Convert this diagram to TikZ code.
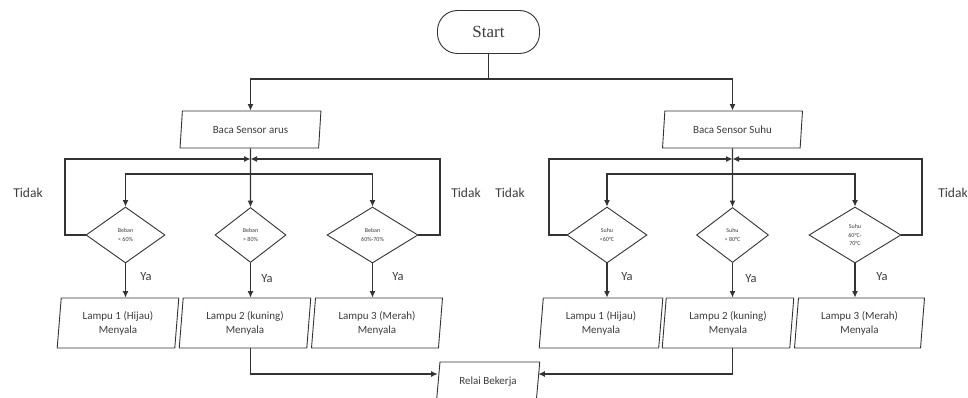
\documentclass[tikz,border=0pt]{standalone}
\usepackage{fontspec}
\setmainfont{Carlito}
\newfontfamily\startfont{Liberation Serif}
\usetikzlibrary{shapes.geometric,arrows.meta}
\definecolor{lc}{HTML}{333333}
\definecolor{tc}{HTML}{3C3C3C}
\tikzset{
  line/.style={draw=lc, line width=1.1pt},
  arr/.style={line, -{Latex[length=6.5pt,width=6pt]}},
  para/.style={trapezium, trapezium left angle=80, trapezium right angle=100,
    trapezium stretches=true, draw=lc, line width=0.9pt, inner sep=0pt,
    align=center, text=tc, font=\fontsize{11}{14}\selectfont},
  lamp/.style={para, trapezium left angle=84, trapezium right angle=96, minimum height=50pt},
  dia/.style={diamond, draw=lc, line width=0.9pt, inner sep=0pt, align=center,
    text=tc, font=\fontsize{6}{8.5}\selectfont},
  startbox/.style={draw=lc, line width=0.9pt, rounded corners=20pt,
    minimum width=102pt, minimum height=43pt, text=tc,
    font=\startfont\fontsize{17}{20}\selectfont},
  lbl/.style={text=tc, font=\fontsize{13.5}{16}\selectfont},
  ya/.style={text=tc, font=\fontsize{12.5}{15}\selectfont}
}
\begin{document}
\begin{tikzpicture}[x=1pt,y=-1pt]
\useasboundingbox (0,0) rectangle (968,398);
% start
\node[startbox] (start) at (488.5,32) {Start};
\coordinate (j0) at (489,79);
\node[para, minimum width=141pt, minimum height=37pt] (ba) at (250.5,129.5) {Baca Sensor arus};
\node[para, minimum width=141pt, minimum height=37pt] (bs) at (732.5,129.5) {Baca Sensor Suhu};
\draw[line] (start.south) -- (start.south |- j0);
\draw[arr] (start.south |- j0) -| (ba.north);
\draw[arr] (start.south |- j0) -| (bs.north);
% diamonds left
\node[dia, minimum width=79pt, minimum height=56pt] (d1) at (125.5,235) {Beban\\< 60\%};
\node[dia, minimum width=71pt, minimum height=55pt] (d2) at (250.5,235) {Beban\\> 80\%};
\node[dia, minimum width=91pt, minimum height=56pt] (d3) at (372.5,235) {Beban\\60\%-70\%};
% diamonds right
\node[dia, minimum width=80pt, minimum height=56pt] (d4) at (607,235) {Suhu\\<60°C};
\node[dia, minimum width=72pt, minimum height=55pt] (d5) at (732.5,235) {Suhu\\> 80°C};
\node[dia, minimum width=92pt, minimum height=56pt] (d6) at (855,235) {Suhu\\60°C-\\70°C};
% left branch
\coordinate (ha) at (250.5,174);
\coordinate (la) at (250.5,159);
\coordinate (lL) at (65,159);
\coordinate (lR) at (440,159);
\draw[arr] (ba.south) -- (d2.north);
\draw[arr] (ha) -| (d1.north);
\draw[arr] (ha) -| (d3.north);
\draw[arr] (d1.west) -| (lL) -- (la);
\draw[arr] (d3.east) -| (lR) -- (la);
% right branch
\coordinate (hb) at (732.5,174);
\coordinate (lb) at (732.5,159);
\coordinate (rL) at (549,159);
\coordinate (rR) at (922,159);
\draw[arr] (bs.south) -- (d5.north);
\draw[arr] (hb) -| (d4.north);
\draw[arr] (hb) -| (d6.north);
\draw[arr] (d4.west) -| (rL) -- (lb);
\draw[arr] (d6.east) -| (rR) -- (lb);
% lamps
\node[lamp, minimum width=122pt] (l1) at (118,323) {Lampu 1 (Hijau)\\Menyala};
\node[lamp, minimum width=132pt] (l2) at (245,323) {Lampu 2 (kuning)\\Menyala};
\node[lamp, minimum width=132pt] (l3) at (377,323) {Lampu 3 (Merah)\\Menyala};
\node[lamp, minimum width=124pt] (l4) at (601,323) {Lampu 1 (Hijau)\\Menyala};
\node[lamp, minimum width=132pt] (l5) at (728,323) {Lampu 2 (kuning)\\Menyala};
\node[lamp, minimum width=131pt] (l6) at (859.5,323) {Lampu 3 (Merah)\\Menyala};
\draw[arr] (d1.south) -- (d1.south |- l1.north);
\draw[arr] (d2.south) -- (d2.south |- l2.north);
\draw[arr] (d3.south) -- (d3.south |- l3.north);
\draw[arr] (d4.south) -- (d4.south |- l4.north);
\draw[arr] (d5.south) -- (d5.south |- l5.north);
\draw[arr] (d6.south) -- (d6.south |- l6.north);
% Ya labels
\node[ya] (y1) at (146,277) {Ya};
\node[ya] (y2) at (267,279) {Ya};
\node[ya] (y3) at (398,277) {Ya};
\node[ya] (y4) at (627,277) {Ya};
\node[ya] (y5) at (751,279) {Ya};
\node[ya] (y6) at (882,277) {Ya};
% Tidak labels
\node[lbl] (t1) at (28,193) {Tidak};
\node[lbl] (t2) at (466,193) {Tidak};
\node[lbl] (t3) at (510,193) {Tidak};
\node[lbl] (t4) at (953,193) {Tidak};
% relai
\node[para, minimum width=104pt, minimum height=42pt, text depth=0pt] (re) at (488,383) {\raisebox{5pt}{Relai Bekerja}};
\draw[arr] (d2.south |- l2.south) |- ([yshift=9pt]re.west);
\draw[arr] (d5.south |- l5.south) |- ([yshift=9pt]re.east);
\end{tikzpicture}
\end{document}
